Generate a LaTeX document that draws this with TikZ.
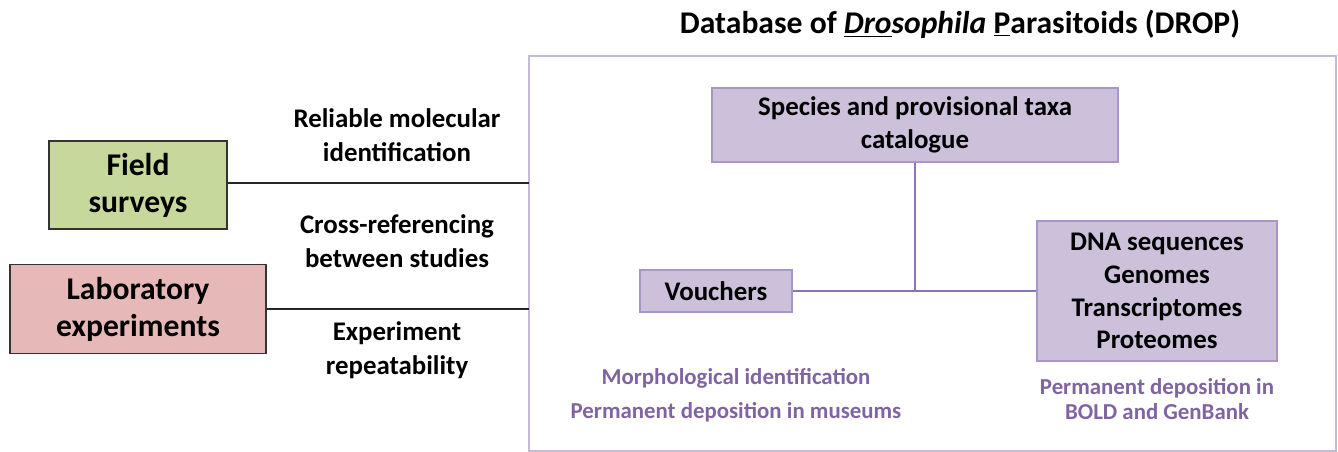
\documentclass[tikz,border=0pt]{standalone}
\usepackage{fontspec}
\setmainfont{Carlito}
\usetikzlibrary{positioning,calc}
\definecolor{fieldgreen}{HTML}{C6D89C}
\definecolor{labpink}{HTML}{E6B9B8}
\definecolor{lavender}{HTML}{CCC0DA}
\definecolor{lavedge}{HTML}{A996C8}
\definecolor{frameedge}{HTML}{C4BAD9}
\definecolor{purpletext}{HTML}{8064A2}
\definecolor{linkline}{HTML}{8A74B6}

\begin{document}
\begin{tikzpicture}[x=0.02cm, y=-0.02cm,
  src/.style={rectangle, draw=black!80, thick, fill=#1, align=center, font=\fontsize{18}{21}\selectfont\bfseries},
  dbbox/.style={rectangle, draw=lavedge, thick, fill=lavender, align=center, font=\fontsize{15.3}{18.7}\selectfont\bfseries},
  lbl/.style={align=center, font=\fontsize{15.3}{19.3}\selectfont\bfseries},
  note/.style={align=center, text=purpletext, font=\fontsize{13}{19.3}\selectfont\bfseries},
  link/.style={line width=1.4pt, black!85},
  tie/.style={line width=1.2pt, linkline}
]
  \useasboundingbox (0,0) rectangle (1338,452);

  % Title and database frame
  \node[font=\fontsize{18}{21}\selectfont\bfseries] (title) at (960,24) {Database of \underline{\itshape Dro}{\itshape sophila} \underline{P}arasitoids (DROP)};
  \draw[frameedge, line width=1.3pt] (529,56) rectangle (1336,451);
  \coordinate (fin) at (529,183);
  \coordinate (lin) at (529,309);

  % Sources
  \node[src=fieldgreen, minimum width=3.56cm, minimum height=1.76cm] (field) at (138,185) {Field\\surveys};
  \node[src=labpink, minimum width=5.12cm, minimum height=1.78cm] (lab) at (138,309) {Laboratory\\experiments};
  \draw[link] (field.east |- fin) -- (fin);
  \draw[link] (lab.east |- lin) -- (lin);

  % Benefits
  \node[lbl] (reliable) at (397,135) {Reliable molecular\\identification};
  \node[lbl] (crossref) at (397,241) {Cross-referencing\\between studies};
  \node[lbl] (repeat) at (397,350) {Experiment\\repeatability};

  % Database content
  \node[dbbox, minimum width=8.12cm, minimum height=1.48cm] (species) at (915,125) {Species and provisional taxa\\catalogue};
  \node[dbbox, minimum width=3.04cm, minimum height=0.84cm] (vouchers) at (716,291) {Vouchers};
  \node[dbbox, minimum width=4.8cm, minimum height=2.8cm] (dna) at (1157,291) {DNA sequences\\Genomes\\Transcriptomes\\Proteomes};
  \coordinate (hub) at (species.south |- vouchers.east);
  \draw[tie] (species.south) -- (hub);
  \draw[tie] (vouchers.east) -- (dna.west);

  % Deposition notes
  \node[note] (morpho) at (736,395) {Morphological identification\\Permanent deposition in museums};
  \node[note, font=\fontsize{13}{14.7}\selectfont\bfseries] (bold) at (1157,399) {Permanent deposition in\\BOLD and GenBank};
\end{tikzpicture}
\end{document}
